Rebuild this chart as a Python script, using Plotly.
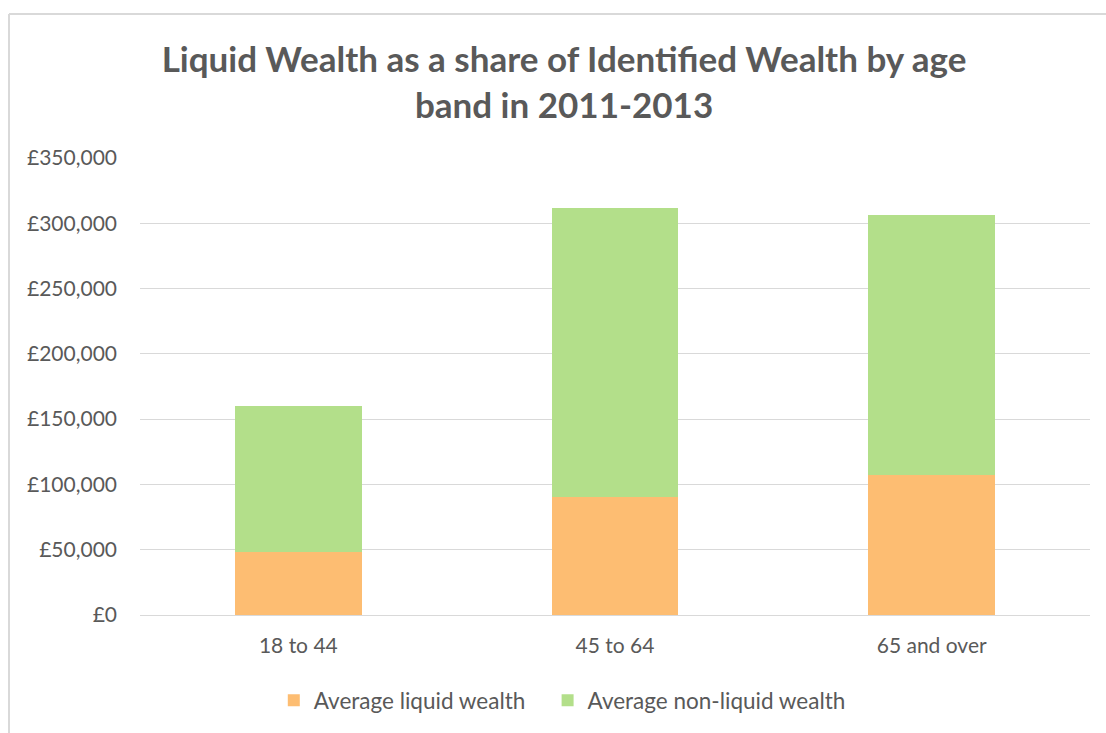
import plotly.graph_objects as go

# Age bands and average wealth components (GBP)
age_bands = ["18 to 44", "45 to 64", "65 and over"]
liquid_wealth = [48000, 90000, 107000]
non_liquid_wealth = [112000, 222000, 199000]

tick_values = [0, 50000, 100000, 150000, 200000, 250000, 300000, 350000]
tick_labels = ["£0", "£50,000", "£100,000", "£150,000", "£200,000",
               "£250,000", "£300,000", "£350,000"]

FONT = "Lato"
GREY = "#595959"
PAD = "\u00a0" * 3  # extra spacing between legend entries

fig = go.Figure()
fig.add_trace(go.Bar(
    x=age_bands, y=liquid_wealth, name="Average liquid wealth" + PAD,
    marker=dict(color="#FDBD72", line=dict(width=0)),
))
fig.add_trace(go.Bar(
    x=age_bands, y=non_liquid_wealth, name="Average non-liquid wealth",
    marker=dict(color="#B3DF8A", line=dict(width=0)),
))

W, H = 1106, 733
L, R, T, B = 140, 16, 158, 118

fig.update_layout(
    width=W, height=H,
    barmode="stack",
    bargap=0.6,
    paper_bgcolor="white",
    plot_bgcolor="white",
    margin=dict(l=L, r=R, t=T, b=B, pad=0),
    font=dict(family=FONT, color=GREY, size=21),
    title=dict(
        text="<b>Liquid Wealth as a share of Identified Wealth by age<br>band in 2011-2013</b>",
        font=dict(family=FONT, size=35, color=GREY),
        x=0.51, xanchor="center", xref="container",
        y=1 - 72 / H, yanchor="top", yref="container",
    ),
    legend=dict(
        orientation="h",
        x=0.5084, xanchor="center", xref="container",
        y=1 - 679 / H, yanchor="top", yref="container",
        font=dict(family=FONT, size=22.5, color=GREY),
        itemwidth=30, traceorder="normal",
    ),
    xaxis=dict(
        showgrid=False, showline=False, ticks="",
        tickfont=dict(family=FONT, size=21, color=GREY),
        ticklabelstandoff=16,
    ),
    yaxis=dict(
        range=[0, 350000],
        tickvals=tick_values, ticktext=tick_labels,
        showgrid=True, gridcolor="#D9D9D9", gridwidth=1,
        zeroline=True, zerolinecolor="#D9D9D9", zerolinewidth=1,
        showline=False, ticks="",
        tickfont=dict(family=FONT, size=21, color=GREY),
        ticklabelstandoff=22,
    ),
)

# Chart frame (left and top edges)
pw, ph = W - L - R, H - T - B
x0 = (9 - L) / pw
y1 = (H - 14 - B) / ph
fig.add_shape(type="line", xref="paper", yref="paper",
              x0=x0, x1=x0, y0=-0.5, y1=y1,
              line=dict(color="#D9D9D9", width=2))
fig.add_shape(type="line", xref="paper", yref="paper",
              x0=x0, x1=1.2, y0=y1, y1=y1,
              line=dict(color="#D9D9D9", width=2))

fig.write_html("out.html")
